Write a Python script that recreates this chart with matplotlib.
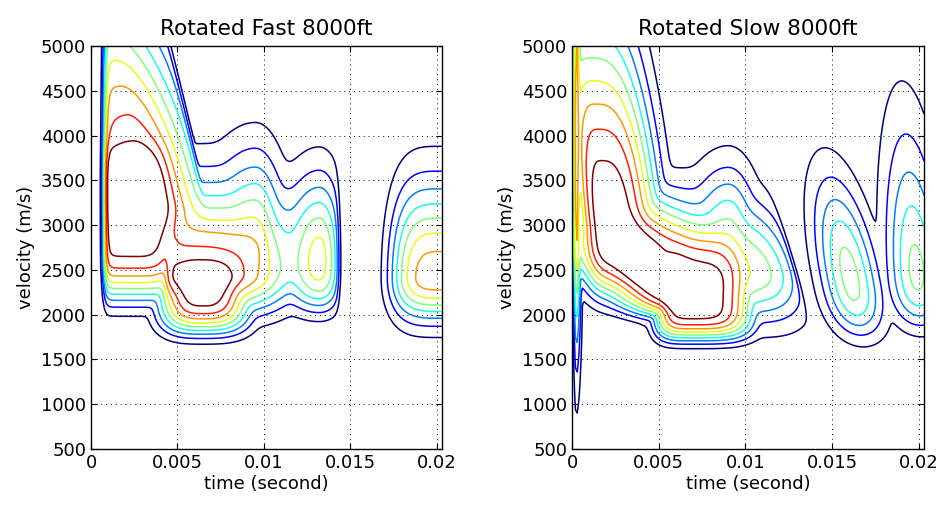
import numpy as np
import matplotlib.pyplot as plt

# grid: time in ms, velocity in km/s
t_ms = np.linspace(0, 20.3, 204)
v_kms = np.linspace(0.5, 5.0, 181)

levels = [0.1, 0.2, 0.3, 0.4, 0.5, 0.6, 0.7, 0.8, 0.9]
xtick_vals = [0, 0.005, 0.01, 0.015, 0.02]
xtick_labels = ['0', '0.005', '0.01', '0.015', '0.02']
ytick_vals = [500, 1000, 1500, 2000, 2500, 3000, 3500, 4000, 4500, 5000]
titles = ['Rotated Fast 8000ft', 'Rotated Slow 8000ft']

# semblance lobes (centres in ms and km/s)
#            A     R     B     S     S2    bump  C     D
fast_t0 = [2.2, 3.28, 6.45, 5.2, 9.5, 9.5, 13.2, 20.4]
fast_v0 = [3.15, 3.27, 2.40, 2.45, 2.55, 2.79, 2.62, 2.41]
fast_tl = [4.0, 4.0, 2.0, 1.0, 4.0, 1.9, 1.5, 2.55]
fast_tr = [2.6, 2.5, 2.2, 5.3, 6.0, 1.2, 1.0, 2.55]
fast_vd = [0.8, 0.5, 0.5, 0.3, 0.3, 0.4, 0.45, 0.33]
fast_vu = [0.85, 1.64, 0.28, 0.7, 0.65, 0.71, 0.65, 0.73]
fast_pt = [4, 2, 3, 4, 2, 2, 2, 4]
fast_pvd = [4, 2, 4, 2, 2, 2, 3, 2]
fast_pvu = [4, 2, 2, 2, 2, 2, 2, 2]
fast_amp = [0.97, 0.95, 0.96, 0.88, 0.47, 0.62, 0.64, 0.76]
fast_tilt = [-0.4, -1.2, 0, 0, 0, 0, 0, 0]
fast_tcut = [99, 3.4, 99, 99, 4.85, 99, 1.15, 99]
fast_edge = (0.755, 0.095)

#            ridge M1    L     M2    M3    S     bump  E     F
slow_t0 = [0.25, 2.0, 3.9, 6.9, 4.8, 8.5, 9.0, 16.0, 19.85]
slow_v0 = [3.3, 3.14, 2.7, 2.19, 2.35, 2.5, 2.9, 2.45, 2.53]
slow_tl = [0.12, 1.4, 1.6, 1.8, 2.5, 3.0, 1.6, 1.2, 1.2]
slow_tr = [0.2, 2.4, 3.4, 3.0, 1.5, 3.8, 1.2, 1.2, 1.2]
slow_vd = [1.2, 0.77, 0.45, 0.39, 0.35, 0.4, 0.4, 0.54, 0.52]
slow_vu = [6.0, 1.5, 0.5, 0.7, 0.5, 0.6, 0.55, 0.77, 0.98]
slow_pt = [2, 3, 2, 4, 2, 4, 2, 2, 2]
slow_pvd = [2, 4, 2, 4, 4, 2, 2, 3, 3]
slow_pvu = [2, 2, 2, 3, 2, 2, 2, 2, 1.6]
slow_amp = [0.76, 0.97, 0.98, 0.96, 0.985, 0.6, 0.5, 0.54, 0.53]
slow_tilt = [0, -0.54, -2.5, 0, -6.0, -1.5, 0, -1.0, -0.4]
slow_tcut = [99, 99, 99, 99, 99, 4.4, 99, 99, 99]
slow_edge = (0.02, 0.03)


def semblance(t, v, t0, v0, tl, tr, vd, vu, pt, pvd, pvu, amp, tilt, tcut, edge):
    total = np.zeros_like(t)
    for i in range(len(t0)):
        ts = t - t0[i] - tilt[i] * (v - v0[i])
        dt = np.abs(np.where(ts < 0, ts / tl[i], ts / tr[i])) ** pt[i]
        dv = np.where(v < v0[i], np.abs((v - v0[i]) / vd[i]) ** pvd[i],
                      np.abs((v - v0[i]) / vu[i]) ** pvu[i])
        g = amp[i] * np.exp(-0.5 * (dt + dv))
        g = g / (1.0 + np.exp((ts - tcut[i]) / 0.1))
        total += g ** 6
    total = total ** (1.0 / 6)
    total *= 1.0 / (1.0 + np.exp(-(t - edge[0]) / edge[1]))
    return total


T, V = np.meshgrid(t_ms, v_kms)
fields = [
    semblance(T, V, fast_t0, fast_v0, fast_tl, fast_tr, fast_vd, fast_vu, fast_pt,
              fast_pvd, fast_pvu, fast_amp, fast_tilt, fast_tcut, fast_edge),
    semblance(T, V, slow_t0, slow_v0, slow_tl, slow_tr, slow_vd, slow_vu, slow_pt,
              slow_pvd, slow_pvu, slow_amp, slow_tilt, slow_tcut, slow_edge),
]

plt.rcParams['font.family'] = 'DejaVu Sans'
plt.rcParams['font.size'] = 13

fig = plt.figure(figsize=(9.45, 5.08), dpi=100)
boxes = [[0.0963, 0.1161, 0.3714, 0.7933], [0.6053, 0.1161, 0.3725, 0.7933]]

for k in range(2):
    ax = fig.add_axes(boxes[k])
    ax.contour(T / 1000.0, V * 1000.0, fields[k], levels=levels, cmap='jet',
               vmin=0.1, vmax=0.9, linewidths=1.1)
    ax.set_xlim(0, 0.0203)
    ax.set_ylim(500, 5000)
    ax.set_xticks(xtick_vals)
    ax.set_xticklabels(xtick_labels)
    ax.set_yticks(ytick_vals)
    ax.grid(True, color='k', linestyle=(0, (1, 4)), linewidth=0.7)
    ax.tick_params(direction='in', top=True, right=True, length=4, width=0.8)
    for s in ax.spines.values():
        s.set_linewidth(1.0)
    ax.set_title(titles[k], pad=8)
    ax.set_xlabel('time (second)', labelpad=2)
    ax.set_ylabel('velocity (m/s)')

fig.savefig('out.png', dpi=100)
